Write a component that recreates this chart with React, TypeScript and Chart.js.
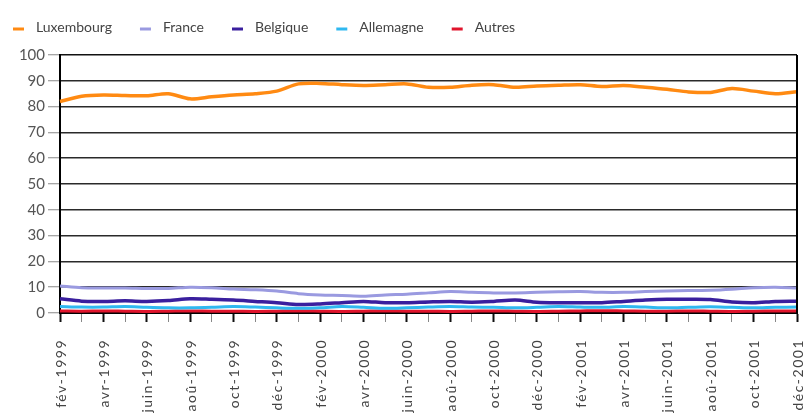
import { useEffect, useRef } from 'react';
import { Chart, registerables } from 'chart.js';

Chart.register(...registerables);

// Monthly categories, February 1999 to December 2001
const categories = [
  'fév-1999', 'mar-1999', 'avr-1999', 'mai-1999', 'juin-1999', 'juil-1999',
  'aoû-1999', 'sep-1999', 'oct-1999', 'nov-1999', 'déc-1999',
  'jan-2000', 'fév-2000', 'mar-2000', 'avr-2000', 'mai-2000', 'juin-2000',
  'juil-2000', 'aoû-2000', 'sep-2000', 'oct-2000', 'nov-2000', 'déc-2000',
  'jan-2001', 'fév-2001', 'mar-2001', 'avr-2001', 'mai-2001', 'juin-2001',
  'juil-2001', 'aoû-2001', 'sep-2001', 'oct-2001', 'nov-2001', 'déc-2001',
];

const luxembourg = [
  82, 84, 84.5, 84.3, 84.2, 85, 83, 83.8, 84.5, 85, 86,
  88.8, 89, 88.5, 88.2, 88.5, 88.8, 87.5, 87.5, 88.3, 88.5, 87.5, 88,
  88.3, 88.5, 87.8, 88.2, 87.5, 86.7, 85.7, 85.5, 87, 86, 85, 85.8,
];
const france = [
  10.5, 9.8, 9.7, 9.7, 9.5, 9.5, 10, 9.8, 9.3, 9, 8.5,
  7.5, 7, 6.8, 6.5, 7, 7.3, 7.8, 8.3, 8, 7.8, 7.8, 8,
  8.2, 8.3, 8, 8, 8.3, 8.5, 8.7, 8.8, 9.2, 9.8, 10, 9.7,
];
const belgique = [
  5.5, 4.6, 4.5, 4.7, 4.5, 4.8, 5.5, 5.3, 5, 4.5, 4,
  3.3, 3.5, 4, 4.5, 4, 4, 4.3, 4.5, 4.2, 4.5, 5, 4.2,
  4, 4, 4, 4.5, 5, 5.3, 5.3, 5.2, 4.3, 4, 4.5, 4.6,
];
const allemagne = [
  2.5, 2.3, 2.3, 2.5, 2.2, 2, 2, 2.2, 2.5, 2.3, 2,
  1.8, 2, 2.5, 2.2, 1.8, 2, 2.3, 2.5, 2.3, 2.2, 2, 2.2,
  2.5, 2.3, 2.2, 2.5, 2.3, 2, 2.2, 2.4, 2.2, 2, 2.2, 2.3,
];
const autres = [
  0.8, 0.7, 0.8, 0.7, 0.6, 0.7, 0.8, 0.7, 0.7, 0.6, 0.7,
  0.8, 0.7, 0.6, 0.7, 0.8, 0.7, 0.7, 0.6, 0.7, 0.8, 0.7, 0.6,
  0.7, 0.8, 0.9, 0.8, 0.7, 0.7, 0.8, 0.7, 0.6, 0.7, 0.8, 0.8,
];

const seriesNames = ['Luxembourg', 'France', 'Belgique', 'Allemagne', 'Autres'];
const seriesValues = [luxembourg, france, belgique, allemagne, autres];
const seriesColors = ['#ff8a12', '#9a9ae0', '#3a1f9e', '#2fb8f0', '#e0142c'];
const seriesWidths = [3.5, 3, 3.5, 3, 3];

const yMin = 0;
const yMax = 100;
const yStep = 10;

const FONT = 'Lato, "Open Sans", sans-serif';

// Legend row across the top, left aligned, with short line markers
const topLegend = {
  id: 'topLegend',
  afterDraw(chart: any) {
    const ctx = chart.ctx as CanvasRenderingContext2D;
    ctx.save();
    ctx.font = `14px ${FONT}`;
    ctx.textBaseline = 'middle';
    ctx.textAlign = 'left';
    let x = 13;
    const y = 27;
    chart.data.datasets.forEach((ds: any) => {
      ctx.strokeStyle = ds.borderColor;
      ctx.lineWidth = 3;
      ctx.beginPath();
      ctx.moveTo(x, y + 2);
      ctx.lineTo(x + 11, y + 2);
      ctx.stroke();
      x += 11 + 12;
      ctx.fillStyle = '#444';
      ctx.fillText(ds.label, x, y);
      x += ctx.measureText(ds.label).width + 28;
    });
    ctx.restore();
  },
};

// Vertical month labels (every second month) and the right frame edge
const axisExtras = {
  id: 'axisExtras',
  afterDraw(chart: any) {
    const ctx = chart.ctx as CanvasRenderingContext2D;
    const xs = chart.scales.x;
    const area = chart.chartArea;
    ctx.save();
    ctx.strokeStyle = '#000';
    ctx.lineWidth = 2;
    ctx.beginPath();
    ctx.moveTo(area.right, area.top);
    ctx.lineTo(area.right, area.bottom);
    ctx.stroke();

    ctx.font = `14px ${FONT}`;
    (ctx as any).letterSpacing = '1.5px';
    ctx.fillStyle = '#444';
    ctx.textAlign = 'right';
    ctx.textBaseline = 'middle';
    categories.forEach((label, i) => {
      if (i % 2 !== 0) return;
      const px = xs.getPixelForValue(i);
      ctx.save();
      ctx.translate(px + 1, area.bottom + 26);
      ctx.rotate(-Math.PI / 2);
      ctx.fillText(label, 0, 0);
      ctx.restore();
    });
    ctx.restore();
  },
};

export default function App() {
  const canvasRef = useRef<HTMLCanvasElement | null>(null);

  useEffect(() => {
    if (!canvasRef.current) return;
    const chart = new Chart(canvasRef.current, {
      type: 'line',
      data: {
        labels: categories,
        datasets: seriesNames.map((name, i) => ({
          label: name,
          data: seriesValues[i],
          borderColor: seriesColors[i],
          backgroundColor: seriesColors[i],
          borderWidth: seriesWidths[i],
          pointRadius: 0,
          tension: 0.3,
          fill: false,
        })),
      },
      options: {
        animation: false,
        responsive: true,
        maintainAspectRatio: false,
        layout: { padding: { top: 55, right: 14, left: 0, bottom: 0 } },
        plugins: {
          legend: { display: false },
          tooltip: { enabled: false },
        },
        scales: {
          x: {
            type: 'category',
            offset: false,
            afterFit: (scale: any) => {
              scale.height = 104;
            },
            border: { color: '#000', width: 2 },
            grid: {
              drawOnChartArea: false,
              drawTicks: true,
              tickLength: 9,
              tickWidth: (c: any) => (c.index % 2 === 0 ? 2 : 1),
              tickColor: (c: any) => (c.index % 2 === 0 ? '#111' : '#888'),
            },
            ticks: { display: false, autoSkip: false },
          },
          y: {
            min: yMin,
            max: yMax,
            afterFit: (scale: any) => {
              scale.width = 60;
            },
            border: { color: '#000', width: 2 },
            grid: {
              color: (c: any) => (c.tick && c.tick.value === 100 ? '#111' : '#2a2a2a'),
              lineWidth: 1.5,
              tickLength: 12,
              tickColor: '#888',
              tickWidth: 1,
            },
            ticks: {
              stepSize: yStep,
              padding: 3,
              color: '#555',
              font: { family: FONT, size: 15 },
            },
          },
        },
      },
      plugins: [topLegend, axisExtras],
    });
    return () => chart.destroy();
  }, []);

  return (
    <div style={{ position: 'fixed', left: 0, top: 0, width: 811, height: 417, background: '#fff' }}>
      <canvas ref={canvasRef} />
    </div>
  );
}
